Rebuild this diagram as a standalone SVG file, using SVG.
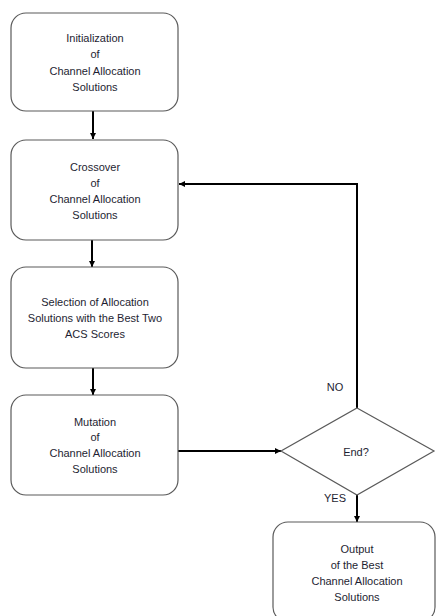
<svg xmlns="http://www.w3.org/2000/svg" width="437" height="616" viewBox="0 0 437 616">
<defs>
<marker id="ah" viewBox="0 0 10 10" refX="10" refY="5" markerWidth="3" markerHeight="3" orient="auto" markerUnits="strokeWidth">
<path d="M0,0 L10,5 L0,10 z" fill="#000"/>
</marker>
<style>
.box{fill:#fff;stroke:#5a5a5a;stroke-width:1.2}
.t{font-family:"Liberation Sans",Arial,sans-serif;font-size:11px;fill:#1e1e32;text-anchor:middle}
.c{fill:none;stroke:#000;stroke-width:2;marker-end:url(#ah)}
.l{fill:none;stroke:#000;stroke-width:2}
</style>
</defs>
<rect width="437" height="616" fill="#fff"/>
<g id="connectors">
<line class="c" x1="93" y1="111" x2="93" y2="139"/>
<line class="c" x1="92" y1="240" x2="92" y2="267"/>
<line class="c" x1="93" y1="368" x2="93" y2="395"/>
<line class="c" x1="178" y1="451" x2="281" y2="451"/>
<polyline class="c" points="357,408 357,184 179,184"/>
<line class="c" x1="357" y1="495" x2="357" y2="522"/>
<text class="t" x="335" y="391">NO</text>
<text class="t" x="335" y="502">YES</text>
</g>
<g id="init">
<rect class="box" x="11" y="13" width="167" height="98" rx="15"/>
<text class="t" x="95" y="42">Initialization</text>
<text class="t" x="95" y="58">of</text>
<text class="t" x="95" y="75">Channel Allocation</text>
<text class="t" x="95" y="91">Solutions</text>
</g>
<g id="crossover">
<rect class="box" x="11" y="140" width="167" height="100" rx="15"/>
<text class="t" x="95" y="171">Crossover</text>
<text class="t" x="95" y="187">of</text>
<text class="t" x="95" y="203">Channel Allocation</text>
<text class="t" x="95" y="219">Solutions</text>
</g>
<g id="selection">
<rect class="box" x="11" y="267" width="167" height="101" rx="15"/>
<text class="t" x="95" y="306">Selection of Allocation</text>
<text class="t" x="95" y="322">Solutions with the Best Two</text>
<text class="t" x="95" y="338">ACS Scores</text>
</g>
<g id="mutation">
<rect class="box" x="11" y="395" width="167" height="100" rx="15"/>
<text class="t" x="95" y="426">Mutation</text>
<text class="t" x="95" y="441">of</text>
<text class="t" x="95" y="457">Channel Allocation</text>
<text class="t" x="95" y="473">Solutions</text>
</g>
<g id="end">
<polygon class="box" points="357,408 434,451 357,495 281,451"/>
<text class="t" x="356" y="456">End?</text>
</g>
<g id="output">
<rect class="box" x="273" y="522" width="162" height="100" rx="15"/>
<text class="t" x="357" y="553">Output</text>
<text class="t" x="357" y="569">of the Best</text>
<text class="t" x="357" y="585">Channel Allocation</text>
<text class="t" x="357" y="601">Solutions</text>
</g>
</svg>
